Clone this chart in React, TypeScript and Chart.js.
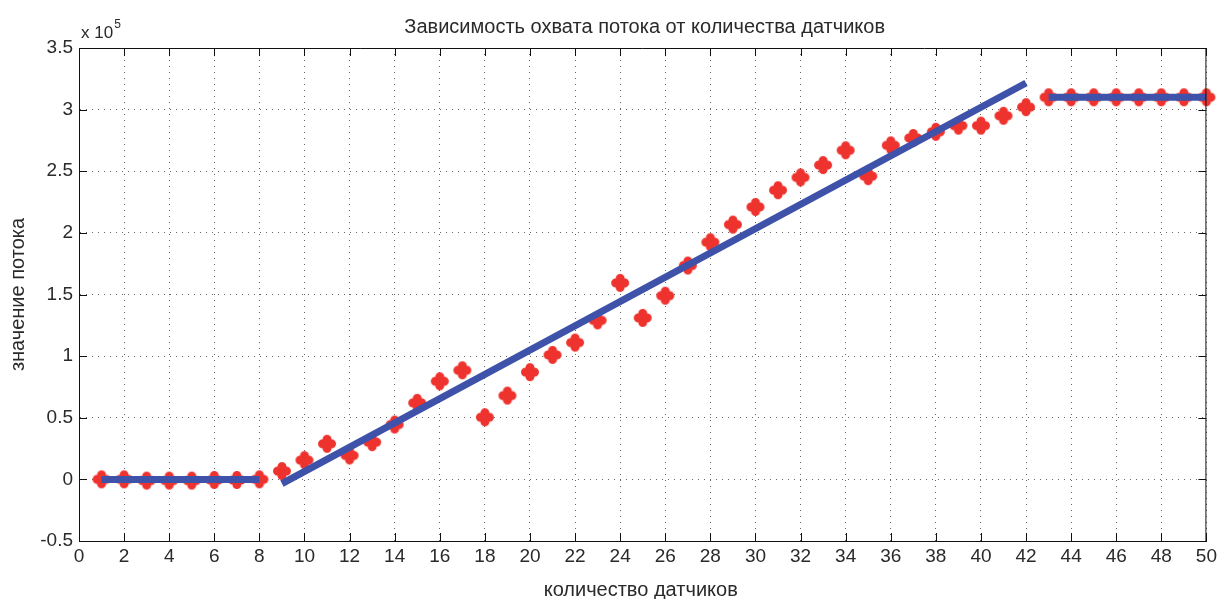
import React, { useEffect, useRef } from "react";
import { Chart, registerables } from "chart.js";

Chart.register(...registerables);

const titleText = "Зависимость охвата потока от количества датчиков";
const xLabel = "количество датчиков";
const yLabel = "значение потока";

const sensorCounts = [
  1, 2, 3, 4, 5, 6, 7, 8, 9, 10, 11, 12, 13, 14, 15, 16, 17, 18, 19, 20, 21, 22, 23, 24, 25,
  26, 27, 28, 29, 30, 31, 32, 33, 34, 35, 36, 37, 38, 39, 40, 41, 42, 43, 44, 45, 46, 47, 48, 49, 50,
];
// values in units of 10^5
const flowValues = [
  0, 0, -0.01, -0.01, -0.01, -0.005, -0.005, 0, 0.067, 0.156,
  0.289, 0.194, 0.302, 0.445, 0.621, 0.796, 0.885, 0.504, 0.68, 0.87,
  1.01, 1.11, 1.29, 1.594, 1.31, 1.49, 1.735, 1.924, 2.067, 2.21,
  2.346, 2.45, 2.55, 2.67, 2.46, 2.71, 2.77, 2.82, 2.87, 2.87,
  2.95, 3.02, 3.1, 3.1, 3.1, 3.1, 3.1, 3.1, 3.1, 3.1,
];

const fitLowX = [1, 8];
const fitLowY = [0, 0];
const fitMidX = [9, 42];
const fitMidY = [-0.035, 3.216];
const fitHighX = [43, 50];
const fitHighY = [3.1, 3.1];

const RED = "rgb(238,50,46)";
const BLUE = "rgb(62,82,170)";
const TEXT = "#2a2a2a";
const FONT = "'Liberation Sans', Arial, sans-serif";

function makePlus(): HTMLCanvasElement {
  const c = document.createElement("canvas");
  c.width = 20;
  c.height = 20;
  const g = c.getContext("2d")!;
  g.strokeStyle = RED;
  g.lineWidth = 9;
  g.lineCap = "round";
  g.beginPath();
  g.moveTo(5.5, 10);
  g.lineTo(14.5, 10);
  g.moveTo(10, 5.5);
  g.lineTo(10, 14.5);
  g.stroke();
  return c;
}

const toXY = (xs: number[], ys: number[]) => xs.map((x, i) => ({ x, y: ys[i] }));

const decorPlugin = {
  id: "decor",
  afterDraw(chart: any) {
    const { ctx, chartArea: a, scales } = chart;
    const xs = scales.x;
    const ys = scales.y;
    ctx.save();
    ctx.strokeStyle = "#111";
    ctx.lineWidth = 1;
    ctx.beginPath();
    ctx.moveTo(a.left, a.top + 0.5);
    ctx.lineTo(a.right, a.top + 0.5);
    ctx.moveTo(a.right - 0.5, a.top);
    ctx.lineTo(a.right - 0.5, a.bottom);
    const tl = 8;
    xs.ticks.forEach((t: any) => {
      const px = Math.round(xs.getPixelForValue(t.value)) + 0.5;
      ctx.moveTo(px, a.bottom);
      ctx.lineTo(px, a.bottom - tl);
      ctx.moveTo(px, a.top);
      ctx.lineTo(px, a.top + tl);
    });
    ys.ticks.forEach((t: any) => {
      const py = Math.round(ys.getPixelForValue(t.value)) + 0.5;
      ctx.moveTo(a.left, py);
      ctx.lineTo(a.left + tl, py);
      ctx.moveTo(a.right, py);
      ctx.lineTo(a.right - tl, py);
    });
    ctx.stroke();

    ctx.fillStyle = TEXT;
    ctx.textBaseline = "alphabetic";
    ctx.textAlign = "left";
    ctx.font = `17px ${FONT}`;
    ctx.fillText("x 10", a.left + 2, 38);
    const w = ctx.measureText("x 10").width;
    ctx.font = `12px ${FONT}`;
    ctx.fillText("5", a.left + 2 + w + 1, 28);

    const cx = (a.left + a.right) / 2;
    ctx.font = `20px ${FONT}`;
    ctx.textAlign = "center";
    ctx.textBaseline = "middle";
    ctx.fillText(titleText, cx + 2, 27);
    ctx.fillText(xLabel, cx - 2, 590);

    ctx.translate(18, (a.top + a.bottom) / 2);
    ctx.rotate(-Math.PI / 2);
    ctx.fillText(yLabel, 0, 0);
    ctx.restore();
  },
};

export default function App() {
  const ref = useRef<HTMLCanvasElement>(null);
  useEffect(() => {
    const plus = makePlus();
    const chart = new Chart(ref.current!, {
      type: "scatter",
      data: {
        datasets: [
          {
            data: toXY(fitLowX, fitLowY),
            showLine: true,
            borderColor: BLUE,
            borderWidth: 7,
            pointRadius: 0,
            order: 0,
            clip: false,
          },
          {
            data: toXY(fitMidX, fitMidY),
            showLine: true,
            borderColor: BLUE,
            borderWidth: 7,
            pointRadius: 0,
            order: 0,
            clip: false,
          },
          {
            data: toXY(fitHighX, fitHighY),
            showLine: true,
            borderColor: BLUE,
            borderWidth: 7,
            pointRadius: 0,
            order: 0,
            clip: false,
          },
          {
            data: toXY(sensorCounts, flowValues),
            showLine: false,
            pointStyle: plus as any,
            pointRadius: 10,
            order: 1,
            clip: false,
          },
        ],
      },
      options: {
        responsive: false,
        animation: false,
        events: [],
        layout: { padding: { left: 0, right: 12, top: 48, bottom: 0 } },
        plugins: {
          legend: { display: false },
          tooltip: { enabled: false },
          title: { display: false },
        },
        scales: {
          x: {
            type: "linear",
            min: 0,
            max: 50,
            afterFit: (s: any) => {
              s.height = 58;
            },
            ticks: {
              stepSize: 2,
              autoSkip: false,
              maxRotation: 0,
              color: TEXT,
              font: { family: FONT, size: 19 },
              padding: 4,
            },
            grid: { color: "#666", drawTicks: false, lineWidth: 1 },
            border: { display: true, color: "#111", width: 1, dash: [1, 5] },
          },
          y: {
            type: "linear",
            min: -0.5,
            max: 3.5,
            afterFit: (s: any) => {
              s.width = 79;
            },
            ticks: {
              stepSize: 0.5,
              color: TEXT,
              font: { family: FONT, size: 19 },
              padding: 6,
              callback: (v: any) => String(Math.round(Number(v) * 10) / 10),
            },
            grid: { color: "#666", drawTicks: false, lineWidth: 1 },
            border: { display: true, color: "#111", width: 1, dash: [1, 5] },
          },
        },
      },
      plugins: [decorPlugin],
    });
    return () => chart.destroy();
  }, []);
  return (
    <div style={{ position: "absolute", left: 0, top: 0, width: 1221, height: 599, background: "#fff" }}>
      <canvas ref={ref} width={1221} height={599} />
    </div>
  );
}
